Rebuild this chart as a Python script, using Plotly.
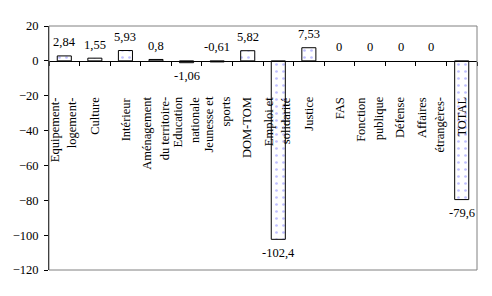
import plotly.graph_objects as go

categories = [
    ["Equipement-", "logement-"],
    ["Culture"],
    ["Intérieur"],
    ["Aménagement", "du territoire-"],
    ["Education", "nationale"],
    ["Jeunesse et", "sports"],
    ["DOM-TOM"],
    ["Emploi et", "solidarité"],
    ["Justice"],
    ["FAS"],
    ["Fonction", "publique"],
    ["Défense"],
    ["Affaires", "étrangères-"],
    ["TOTAL"],
]
values = [2.84, 1.55, 5.93, 0.8, -1.06, -0.61, 5.82, -102.4, 7.53, 0, 0, 0, 0, -79.6]
value_labels = ["2,84", "1,55", "5,93", "0,8", "-1,06", "-0,61", "5,82", "-102,4",
                "7,53", "0", "0", "0", "0", "-79,6"]
label_above = [True, True, True, True, False, True, True, False, True, True, True, True, True, False]
y_ticks = [20, 0, -20, -40, -60, -80, -100, -120]

SERIF = "Liberation Serif, Times New Roman, serif"
n = len(values)
xs = list(range(n))

fig = go.Figure()
fig.add_trace(go.Bar(
    x=xs, y=values, width=0.46,
    marker=dict(color="white",
                line=dict(color="black", width=[0 if v == 0 else 1 for v in values]),
                pattern=dict(shape=".", fgcolor="#8080ff", bgcolor="white", size=7, solidity=0.12)),
    showlegend=False, hoverinfo="skip",
))

annotations = []
for i, (v, lab, above) in enumerate(zip(values, value_labels, label_above)):
    base = v if (above and v >= 0) or (not above) else 0
    annotations.append(dict(
        x=i, y=base, xref="x", yref="y", text=lab, showarrow=False,
        yanchor="middle", xanchor="center", yshift=13.5 if above else -13.5,
        font=dict(family=SERIF, size=12.5, color="black"),
    ))
    lines = categories[i]
    k = len(lines)
    for j, line in enumerate(lines):
        annotations.append(dict(
            x=i, y=0, xref="x", yref="y", text=line, showarrow=False,
            textangle=-90, yanchor="top", xanchor="center",
            yshift=-34, xshift=(j - (k - 1) / 2) * 17,
            font=dict(family=SERIF, size=12.5, color="black"),
        ))

ymin, ymax = -120, 20
fig.update_layout(
    width=492, height=296,
    margin=dict(l=49, r=15, t=26, b=26),
    paper_bgcolor="white", plot_bgcolor="white",
    annotations=annotations,
    shapes=[dict(type="rect", xref="paper", yref="paper", x0=0, x1=1, y0=0, y1=1,
                 line=dict(color="#808080", width=1), layer="above")],
    xaxis=dict(range=[-0.5, n - 0.5], anchor="free", position=(0 - ymin) / (ymax - ymin),
               tickvals=[i + 0.5 for i in range(-1, n)], ticks="outside", ticklen=4,
               tickcolor="black", showticklabels=False, showline=True, linecolor="black",
               linewidth=1, showgrid=False, zeroline=False),
    yaxis=dict(range=[ymin, ymax], tickvals=y_ticks, ticks="outside", ticklen=4,
               tickcolor="black", showline=True, linecolor="black", linewidth=1,
               showgrid=False, zeroline=False, ticklabelstandoff=3,
               tickfont=dict(family=SERIF, size=12.5, color="black")),
)
fig.write_html("out.html")
